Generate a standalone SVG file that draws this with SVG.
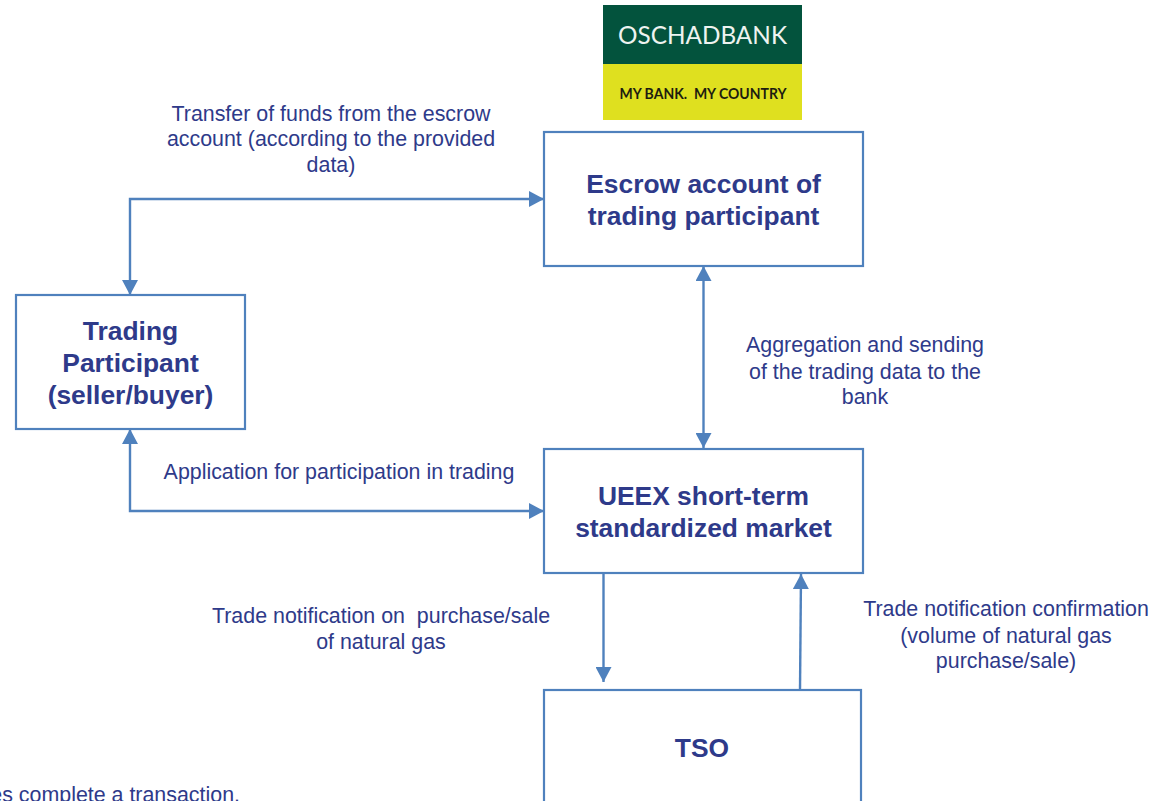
<svg xmlns="http://www.w3.org/2000/svg" width="1169" height="801" viewBox="0 0 1169 801">
<style>
text{font-family:"Liberation Sans",Arial,sans-serif;fill:#2e3a8a;text-anchor:middle;white-space:pre}
.b{fill:#fff;stroke:#4f81bd;stroke-width:2.2}
.t{font-size:26.400px;font-weight:700}
.l{font-size:21.400px}
.c{fill:none;stroke:#4f81bd;stroke-width:2.4}
</style>
<defs>
<marker id="a" markerUnits="userSpaceOnUse" markerWidth="16" markerHeight="16" refX="15" refY="8" orient="auto-start-reverse"><path d="M0 0L15 8L0 16Z" fill="#4f81bd"/></marker>
</defs>
<rect width="1169" height="801" fill="#fff"/>
<g id="logo">
<rect x="603" y="5" width="199" height="59" fill="#03533d"/>
<rect x="603" y="64" width="199" height="56" fill="#dfe01f"/>
<text x="702.500" y="44" style="font-family:'Lato',sans-serif;fill:#eef3f0;font-size:25px" textLength="169" lengthAdjust="spacingAndGlyphs">OSCHADBANK</text>
<text x="703" y="99" style="font-family:'Lato',sans-serif;fill:#1d1d10;font-size:15px;font-weight:700" textLength="167" lengthAdjust="spacingAndGlyphs">MY BANK.  MY COUNTRY</text>
</g>
<g id="connectors">
<path class="c" d="M544 199H130V295" marker-start="url(#a)" marker-end="url(#a)"/>
<path class="c" d="M703.500 266V448" marker-start="url(#a)" marker-end="url(#a)"/>
<path class="c" d="M130 429V511H544" marker-start="url(#a)" marker-end="url(#a)"/>
<path class="c" d="M603.500 573V682" marker-end="url(#a)"/>
<path class="c" d="M800 690L801 574" marker-end="url(#a)"/>
</g>
<g id="escrow"><rect class="b" x="544" y="132" width="319" height="134"/>
<text class="t" x="703.500" y="193">Escrow account of</text><text class="t" x="703.500" y="225">trading participant</text></g>
<g id="participant"><rect class="b" x="16" y="295" width="229" height="134"/>
<text class="t" x="130.500" y="340">Trading</text><text class="t" x="130.500" y="372">Participant</text><text class="t" x="130.500" y="404">(seller/buyer)</text></g>
<g id="ueex"><rect class="b" x="544" y="449" width="319" height="124"/>
<text class="t" x="703.500" y="505">UEEX short-term</text><text class="t" x="703.500" y="537">standardized market</text></g>
<g id="tso"><rect class="b" x="544" y="690" width="317" height="125"/>
<text class="t" x="702" y="757">TSO</text></g>
<g id="labels">
<text class="l" x="331" y="121">Transfer of funds from the escrow</text>
<text class="l" x="331" y="146">account (according to the provided</text>
<text class="l" x="331" y="172">data)</text>
<text class="l" x="865" y="352">Aggregation and sending</text>
<text class="l" x="865" y="379">of the trading data to the</text>
<text class="l" x="865" y="404">bank</text>
<text class="l" x="339" y="479">Application for participation in trading</text>
<text class="l" x="381" y="623">Trade notification on  purchase/sale</text>
<text class="l" x="381" y="649">of natural gas</text>
<text class="l" x="1006" y="616">Trade notification confirmation</text>
<text class="l" x="1006" y="643">(volume of natural gas</text>
<text class="l" x="1006" y="668">purchase/sale)</text>
<text class="l" x="240" y="802" style="text-anchor:end">es complete a transaction.</text>
</g>
</svg>
